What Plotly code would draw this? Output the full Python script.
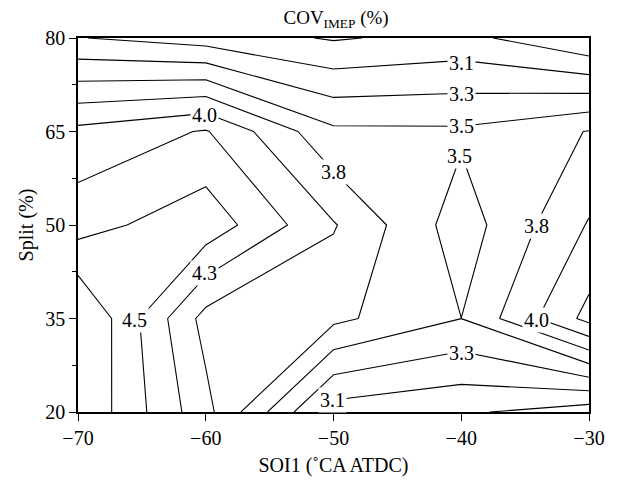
import plotly.graph_objects as go

# grid
soi1 = [-70, -60, -50, -40, -30]
split = [20, 35, 50, 65, 80]

# COV_IMEP (%) values, one list per Split row
cov_split20 = [5.04, 4.13, 2.93, 2.84, 2.66]
cov_split35 = [5.10, 3.96, 3.86, 3.551, 4.38]
cov_split50 = [4.45, 4.71, 4.07, 3.42, 4.07]
cov_split65 = [4.12, 4.32, 3.60, 3.59, 3.81]
cov_split80 = [3.06, 2.93, 2.777, 2.88, 2.56]

# contour levels
level_start, level_end, level_step = 2.8, 4.8, 0.25

# contour labels (text, x, y)
label_text = ["4.0", "3.1", "3.3", "3.5", "3.5", "3.8", "3.8", "4.3", "4.5", "4.0", "3.3", "3.1"]
label_x = [-60.1, -40.0, -40.0, -40.0, -40.1, -50.0, -34.1, -60.1, -65.6, -34.1, -40.0, -50.1]
label_y = [67.6, 76.0, 71.0, 65.9, 61.0, 58.5, 49.9, 42.3, 34.8, 34.8, 29.5, 22.0]

z = [cov_split20, cov_split35, cov_split50, cov_split65, cov_split80]

FONT = "Liberation Serif"

fig = go.Figure(go.Contour(
    x=soi1, y=split, z=z,
    contours=dict(coloring="lines", start=level_start, end=level_end,
                  size=level_step, showlabels=False),
    colorscale=[[0, "black"], [1, "black"]],
    line=dict(width=1.1, smoothing=0),
    showscale=False,
    hoverinfo="skip",
))

for t, lx, ly in zip(label_text, label_x, label_y):
    fig.add_annotation(x=lx, y=ly, text=t, showarrow=False,
                       bgcolor="white", borderpad=1,
                       font=dict(family=FONT, size=20, color="black"))

fig.update_layout(
    width=617, height=485,
    margin=dict(l=78, r=19, t=38, b=64),
    paper_bgcolor="white", plot_bgcolor="white",
    font=dict(family=FONT, size=19, color="black"),
    title=dict(text="COV<sub>IMEP</sub> (%)", x=0.505, xref="paper",
               xanchor="center",
               y=1 - 17 / 485, yref="container", yanchor="middle",
               font=dict(family=FONT, size=19, color="black")),
    showlegend=False,
)
fig.update_xaxes(range=[-70, -30], tickvals=[-70, -60, -50, -40, -30],
                 ticks="outside", ticklen=7, tickwidth=1, tickcolor="black",
                 showline=True, linecolor="black", linewidth=1.5, mirror=True,
                 showgrid=False, zeroline=False,
                 tickfont=dict(family=FONT, size=20),
                 title=dict(text="SOI1 (˚CA ATDC)", standoff=10,
                            font=dict(family=FONT, size=20)))
fig.update_yaxes(range=[20, 80], tickvals=[20, 35, 50, 65, 80],
                 ticks="outside", ticklen=7, tickwidth=1, tickcolor="black",
                 minor=dict(tickvals=[27.5, 42.5, 57.5, 72.5], ticks="outside",
                            ticklen=4, tickcolor="black"),
                 showline=True, linecolor="black", linewidth=1.5, mirror=True,
                 showgrid=False, zeroline=False,
                 tickfont=dict(family=FONT, size=20),
                 title=dict(text="Split (%)", standoff=6,
                            font=dict(family=FONT, size=20)))

fig.write_html("out.html")
